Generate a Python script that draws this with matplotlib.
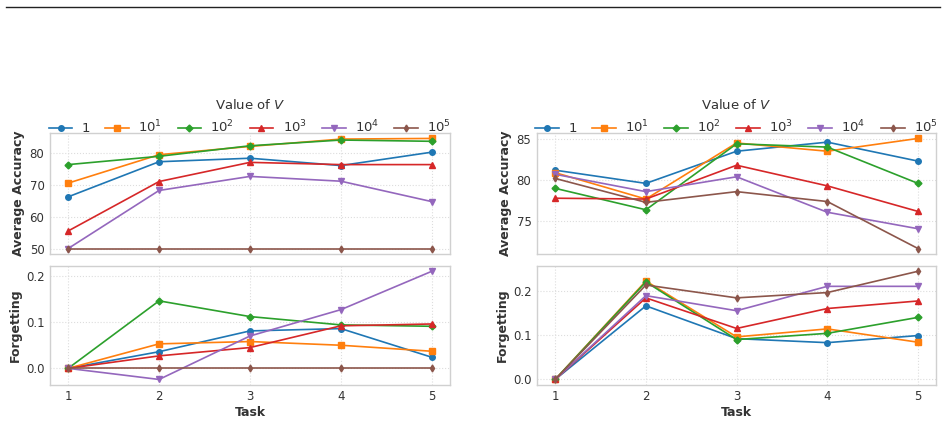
import numpy as np
import matplotlib
matplotlib.use("Agg")
import matplotlib.pyplot as plt
from matplotlib.lines import Line2D

tasks = [1, 2, 3, 4, 5]
labels = ["1", "$10^1$", "$10^2$", "$10^3$", "$10^4$", "$10^5$"]
colors = ["#1f77b4", "#ff7f0e", "#2ca02c", "#d62728", "#9467bd", "#8c564b"]
markers = ["o", "s", "D", "^", "v", "d"]

# left column
acc_left_1 = [66.2, 77.2, 78.3, 76.0, 80.2]
acc_left_10 = [70.5, 79.4, 82.0, 84.3, 84.5]
acc_left_100 = [76.3, 78.9, 82.2, 84.0, 83.6]
acc_left_1000 = [55.5, 71.0, 77.0, 76.3, 76.3]
acc_left_1e4 = [50.0, 68.2, 72.6, 71.1, 64.7]
acc_left_1e5 = [50.0, 50.0, 50.0, 50.0, 50.0]

fgt_left_1 = [0.0, 0.036, 0.081, 0.086, 0.024]
fgt_left_10 = [0.0, 0.053, 0.058, 0.050, 0.037]
fgt_left_100 = [0.0, 0.146, 0.112, 0.094, 0.091]
fgt_left_1000 = [0.0, 0.027, 0.045, 0.092, 0.096]
fgt_left_1e4 = [0.0, -0.024, 0.070, 0.127, 0.210]
fgt_left_1e5 = [0.0, 0.0, 0.0, 0.0, 0.0]

# right column
acc_right_1 = [81.2, 79.6, 83.5, 84.6, 82.3]
acc_right_10 = [80.9, 77.7, 84.5, 83.5, 85.05]
acc_right_100 = [79.0, 76.4, 84.4, 84.0, 79.6]
acc_right_1000 = [77.8, 77.7, 81.8, 79.3, 76.2]
acc_right_1e4 = [80.7, 78.6, 80.4, 76.1, 74.1]
acc_right_1e5 = [80.2, 77.3, 78.6, 77.4, 71.7]

fgt_right_1 = [0.0, 0.166, 0.092, 0.083, 0.099]
fgt_right_10 = [0.0, 0.222, 0.096, 0.114, 0.084]
fgt_right_100 = [0.0, 0.220, 0.090, 0.104, 0.140]
fgt_right_1000 = [0.0, 0.184, 0.115, 0.160, 0.177]
fgt_right_1e4 = [0.0, 0.189, 0.155, 0.210, 0.210]
fgt_right_1e5 = [0.0, 0.213, 0.184, 0.196, 0.244]

plt.rcParams['font.family'] = ['DejaVu Sans']
txt = '#333333'


def style(ax):
    ax.grid(True, color='#dddddd', linestyle=':', linewidth=0.8)
    for s in ax.spines.values():
        s.set_color('#d0d0d0')
        s.set_linewidth(1.0)
    ax.tick_params(colors=txt, labelsize=8.5, length=0, pad=4)
    ax.set_xticks(tasks)
    ax.set_xlim(0.8, 5.2)


def panel(ax_top, ax_bot, acc, fgt):
    for i in range(6):
        ms = 3.5 if markers[i] in ("D", "d") else 4
        ax_top.plot(tasks, acc[i], color=colors[i], marker=markers[i], markersize=ms,
                    linewidth=1.2, label=labels[i])
        ax_bot.plot(tasks, fgt[i], color=colors[i], marker=markers[i], markersize=ms,
                    linewidth=1.2)
    style(ax_top)
    style(ax_bot)
    ax_top.set_xticklabels([])
    ax_top.set_ylabel("Average Accuracy", fontsize=9, fontweight='bold', color=txt, labelpad=3)
    ax_bot.set_ylabel("Forgetting", fontsize=9, fontweight='bold', color=txt, labelpad=3)
    ax_bot.set_xlabel("Task", fontsize=9, fontweight='bold', color=txt, labelpad=2)
    leg = ax_top.legend(title="Value of $V$", ncol=6, frameon=False, fontsize=9.5,
                        title_fontsize=9.5, loc='lower center', bbox_to_anchor=(0.5, 0.97),
                        handlelength=1.8, columnspacing=1.15, borderaxespad=0.0,
                        handletextpad=0.7, borderpad=0.1)
    plt.setp(leg.get_texts(), color=txt)
    leg.get_title().set_color(txt)


fig = plt.figure(figsize=(9.48, 4.22), dpi=100)
ax1 = fig.add_axes([0.0527, 0.398, 0.422, 0.287])
ax2 = fig.add_axes([0.0527, 0.088, 0.422, 0.282])
ax3 = fig.add_axes([0.5665, 0.398, 0.421, 0.287])
ax4 = fig.add_axes([0.5665, 0.088, 0.421, 0.282])

panel(ax1, ax2,
      [acc_left_1, acc_left_10, acc_left_100, acc_left_1000, acc_left_1e4, acc_left_1e5],
      [fgt_left_1, fgt_left_10, fgt_left_100, fgt_left_1000, fgt_left_1e4, fgt_left_1e5])
panel(ax3, ax4,
      [acc_right_1, acc_right_10, acc_right_100, acc_right_1000, acc_right_1e4, acc_right_1e5],
      [fgt_right_1, fgt_right_10, fgt_right_100, fgt_right_1000, fgt_right_1e4, fgt_right_1e5])

ax1.set_yticks([50, 60, 70, 80])
ax2.set_yticks([0.0, 0.1, 0.2])
ax3.set_yticks([75, 80, 85])
ax4.set_yticks([0.0, 0.1, 0.2])

fig.add_artist(Line2D([0.006, 0.992], [0.983, 0.983], color='#222222', linewidth=1.0))

fig.savefig("out.png", dpi=100)
